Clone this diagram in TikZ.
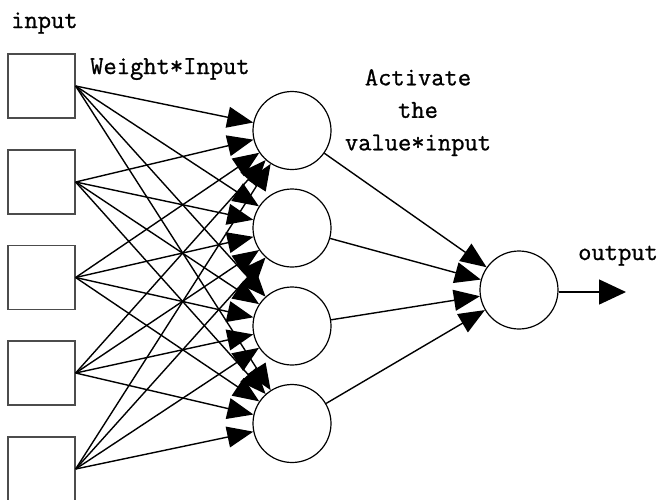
\documentclass[tikz,border=0pt]{standalone}
\usepackage{fontspec}
\setmonofont{Latin Modern Mono}[FakeBold=1]
\usetikzlibrary{arrows.meta}
\begin{document}
\begin{tikzpicture}[x=1pt,y=-1pt,
  inbox/.style={draw=black!70, line width=1.3pt, minimum width=67pt, minimum height=64pt, inner sep=0},
  neuron/.style={draw, circle, line width=1.2pt, minimum size=78pt, inner sep=0},
  conn/.style={line width=1.4pt, -{Triangle[length=26pt,width=21pt]}},
  lbl/.style={inner sep=0, font=\ttfamily\fontsize{25.8}{32.5}\selectfont}]
\useasboundingbox (0,0) rectangle (660,499);
% input boxes
\foreach \i/\y in {1/86,2/182,3/277.5,4/373,5/469}
  \node[inbox] (in\i) at (41.5,\y) {};
% hidden neurons
\foreach \j/\y in {1/130.5,2/228,3/326,4/423.5}
  \node[neuron] (h\j) at (292,\y) {};
% output neuron
\node[neuron] (out) at (519,290) {};
\coordinate (outend) at (626,292);
% connections
\foreach \i in {1,...,5}
  \foreach \j in {1,...,4}
    \draw[conn] (in\i.east) -- (h\j);
\foreach \j in {1,...,4}
  \draw[conn] (h\j) -- (out);
\draw[line width=1.4pt, -{Triangle[length=27pt,width=25pt]}] (out.east |- outend) -- (outend);
% labels
\node[lbl, anchor=base west] (linput) at (11,28) {input};
\node[lbl, anchor=base west] (lweight) at (90,74) {Weight*Input};
\node[lbl, anchor=north, align=center] (lact) at (418,69) {Activate\\the\\value*input};
\node[lbl, anchor=base west] (lout) at (578,260) {output};
\end{tikzpicture}
\end{document}
